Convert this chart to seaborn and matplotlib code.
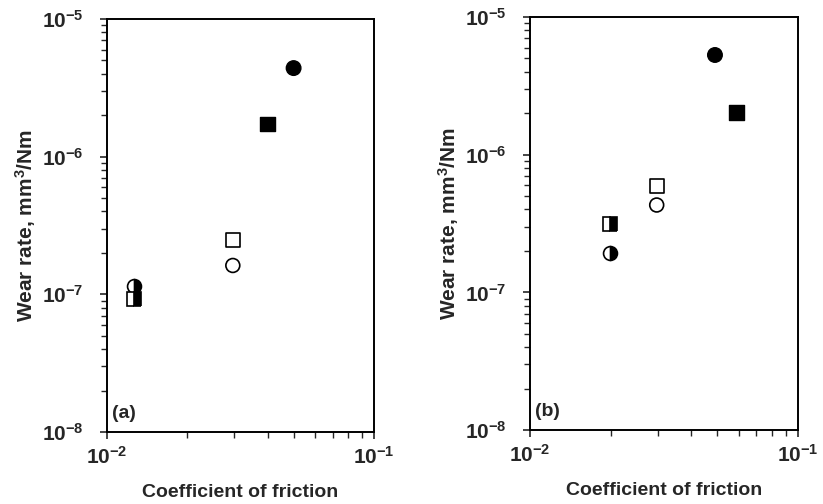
import numpy as np
import pandas as pd
import seaborn as sns
import matplotlib
matplotlib.use("Agg")
import matplotlib.pyplot as plt
from matplotlib.ticker import NullFormatter

# values (coefficient of friction, wear rate)
a_full_x = [0.04, 0.05]
a_full_y = [1.73e-6, 4.4e-6]
a_full_mk = ["s", "o"]
a_open_x = [0.0296, 0.0296]
a_open_y = [2.48e-7, 1.62e-7]
a_open_mk = ["s", "o"]
a_half_x = [0.0126, 0.0126]
a_half_y = [1.14e-7, 9.3e-8]
a_half_mk = ["o", "s"]

b_full_x = [0.049, 0.059]
b_full_y = [5.3e-6, 2.02e-6]
b_full_mk = ["o", "s"]
b_open_x = [0.0297, 0.0297]
b_open_y = [5.93e-7, 4.31e-7]
b_open_mk = ["s", "o"]
b_half_x = [0.0199, 0.0199]
b_half_y = [3.16e-7, 1.92e-7]
b_half_mk = ["s", "o"]

panel_labels = ["(a)", "(b)"]
xlabel = "Coefficient of friction"
ylabel = "Wear rate, mm$^{3}$/Nm"

sns.set_style("ticks")
plt.rcParams["font.family"] = ["Liberation Sans", "DejaVu Sans"]
plt.rcParams["font.weight"] = "bold"
plt.rcParams["mathtext.fontset"] = "custom"
plt.rcParams["mathtext.rm"] = "Liberation Sans:bold"
plt.rcParams["mathtext.it"] = "Liberation Sans:bold"
plt.rcParams["mathtext.bf"] = "Liberation Sans:bold"
plt.rcParams["mathtext.sf"] = "Liberation Sans:bold"

fig = plt.figure(figsize=(8.23, 5.04), dpi=100)
ax1 = fig.add_axes([0.130, 0.1429, 0.3244, 0.8194])
ax2 = fig.add_axes([0.644, 0.1468, 0.3256, 0.8194])


def draw(ax, full_x, full_y, full_mk, open_x, open_y, open_mk, half_x, half_y, half_mk, label):
    # half filled markers first, square drawn on top of the circle
    for x, y, m in zip(half_x, half_y, half_mk):
        ax.plot([x], [y], marker=m, linestyle="", markersize=10 if m == "o" else 9.5,
                fillstyle="right", markerfacecolor="black", markerfacecoloralt="white",
                markeredgecolor="black", markeredgewidth=1.2, zorder=3 if m == "s" else 2)
    df_full = pd.DataFrame({"x": full_x, "y": full_y, "m": full_mk})
    df_open = pd.DataFrame({"x": open_x, "y": open_y, "m": open_mk})
    sns.scatterplot(data=df_full, x="x", y="y", style="m", markers={"o": "o", "s": "s"},
                    color="black", edgecolor="black", s=110, linewidth=1.0, legend=False, ax=ax)
    sns.scatterplot(data=df_open, x="x", y="y", style="m", markers={"o": "o", "s": "s"},
                    facecolor="white", edgecolor="black", s=100, linewidth=1.2, legend=False, ax=ax)
    ax.set_xscale("log")
    ax.set_yscale("log")
    ax.set_xlim(1e-2, 1e-1)
    ax.set_ylim(1e-8, 1e-5)
    ax.xaxis.set_minor_formatter(NullFormatter())
    ax.yaxis.set_minor_formatter(NullFormatter())
    ax.set_xlabel(xlabel, fontsize=14, fontweight="bold", labelpad=12)
    ax.set_ylabel(ylabel, fontsize=15, fontweight="bold", labelpad=3)
    for sp in ax.spines.values():
        sp.set_linewidth(1.4)
        sp.set_color("black")
    ax.tick_params(which="major", direction="out", length=5, width=1.2, labelsize=15,
                   top=False, right=False)
    ax.tick_params(axis="y", which="major", pad=12)
    ax.tick_params(axis="x", which="major", pad=5)
    ax.tick_params(which="minor", direction="out", length=4, width=1.0, top=False, right=False)
    ax.text(0.02, 0.025, label, transform=ax.transAxes, fontsize=14, fontweight="bold",
            ha="left", va="bottom")


draw(ax1, a_full_x, a_full_y, a_full_mk, a_open_x, a_open_y, a_open_mk,
     a_half_x, a_half_y, a_half_mk, panel_labels[0])
draw(ax2, b_full_x, b_full_y, b_full_mk, b_open_x, b_open_y, b_open_mk,
     b_half_x, b_half_y, b_half_mk, panel_labels[1])

fig.savefig("out.png", dpi=100)
